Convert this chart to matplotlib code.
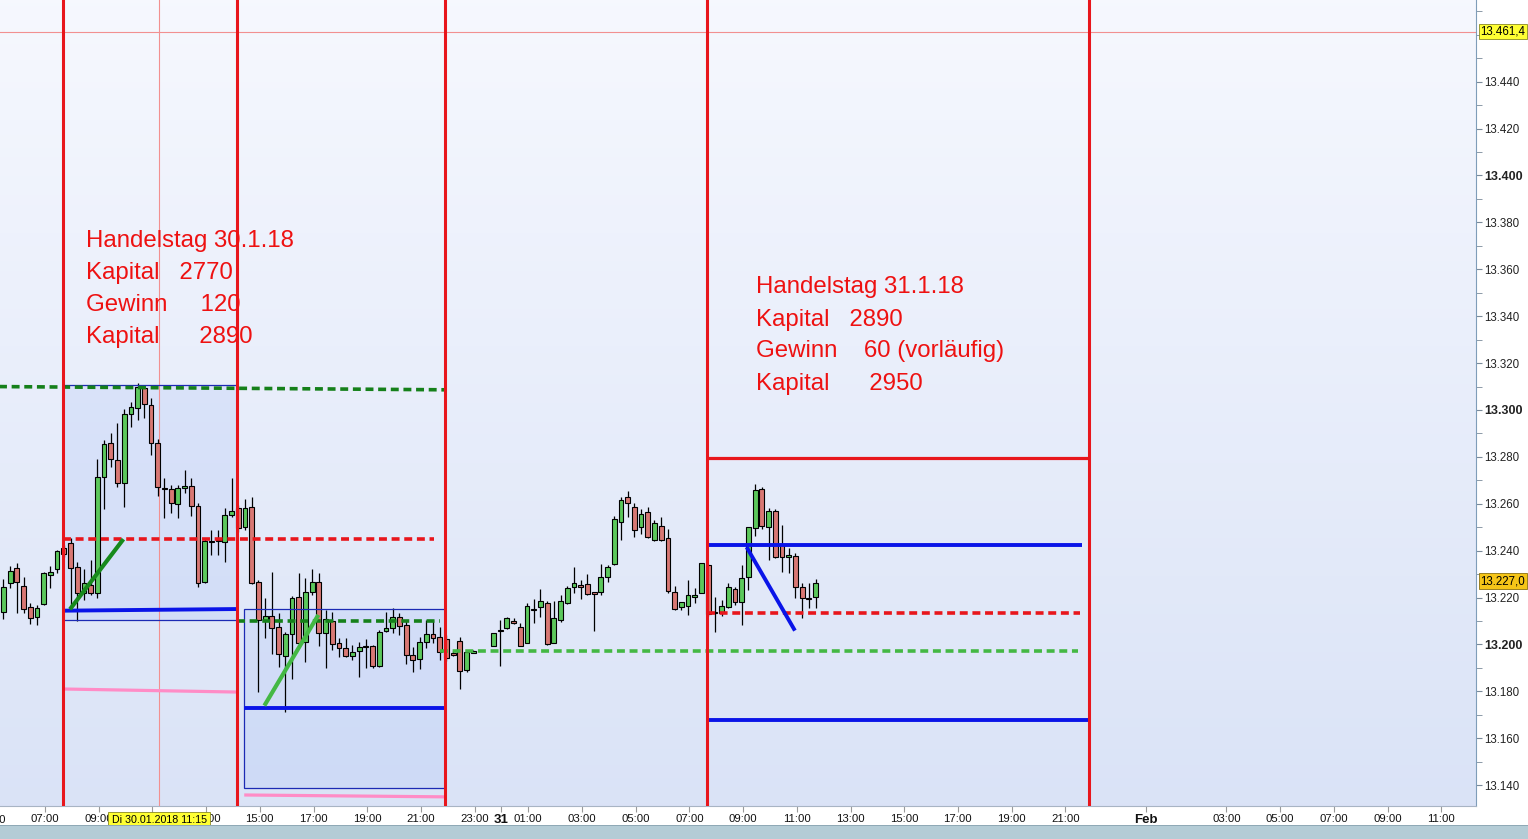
import numpy as np
import pandas as pd
import matplotlib
matplotlib.use("Agg")
import matplotlib.pyplot as plt
from matplotlib.patches import Rectangle
import matplotlib.transforms as mtransforms

plt.rcParams['font.family'] = ['Liberation Sans', 'DejaVu Sans']

# 15 min bars 30.01.2018 05:15 .. 31.01.2018 11:30, no bars at 23:00 and 23:15
bars = pd.date_range('2018-01-30 05:15', '2018-01-31 11:30', freq='15min')
bars = bars[~bars.strftime('%H:%M').isin(['23:00', '23:15'])]

opens = [13213.7, 13226.1, 13232.5, 13224.9, 13216.1, 13211.6, 13217.1, 13229.5, 13232.1, 13241.3,
         13243.1, 13232.9, 13222.1, 13225.4, 13221.8, 13271.6, 13285.8, 13278.7, 13269.0, 13298.2,
         13300.7, 13309.2, 13302.1, 13285.8, 13266.6, 13266.2, 13259.8, 13266.6, 13267.5, 13259.1,
         13226.5, 13244.1, 13244.0, 13243.9, 13255.0, 13258.1, 13250.0, 13258.5, 13226.5, 13210.5,
         13212.3, 13207.5, 13195.2, 13204.3, 13220.1, 13201.2, 13222.5, 13226.5, 13204.8, 13210.0,
         13200.5, 13198.4, 13195.2, 13197.2, 13199.4, 13199.4, 13190.6, 13205.9, 13206.9, 13211.9,
         13208.3, 13195.5, 13193.7, 13201.2, 13204.5, 13203.1, 13202.2, 13196.5, 13201.6, 13189.1,
         13196.5, 13199.5, 13206.0, 13206.9, 13209.9, 13207.4, 13200.8, 13215.1, 13216.1, 13217.6,
         13200.8, 13210.4, 13217.6, 13224.6, 13225.2, 13225.6, 13222.2, 13222.2, 13228.9, 13234.2,
         13252.1, 13262.8, 13258.5, 13250.0, 13256.4, 13244.6, 13250.7, 13245.3, 13222.2, 13215.9,
         13216.4, 13220.1, 13222.1, 13233.9, 13213.6, 13213.6, 13215.8, 13223.7, 13218.3, 13228.6,
         13249.5, 13266.3, 13250.2, 13256.9, 13242.8, 13237.2, 13237.7, 13224.7, 13219.8, 13220.4]
highs = [13227.8, 13233.5, 13234.9, 13228.9, 13217.6, 13216.8, 13231.1, 13233.5, 13240.3, 13242.5,
         13245.3, 13235.1, 13232.1, 13235.8, 13279.0, 13287.2, 13290.1, 13294.6, 13300.3, 13303.6,
         13311.7, 13310.2, 13305.0, 13287.5, 13270.9, 13268.0, 13268.0, 13274.4, 13270.9, 13260.2,
         13245.3, 13248.8, 13248.8, 13258.1, 13271.1, 13259.5, 13261.9, 13263.0, 13227.5, 13219.7,
         13230.8, 13213.3, 13205.5, 13220.8, 13230.3, 13228.2, 13232.1, 13230.3, 13214.7, 13214.0,
         13202.6, 13202.6, 13199.8, 13201.2, 13202.3, 13199.8, 13206.2, 13214.0, 13215.4, 13213.3,
         13210.4, 13199.1, 13203.3, 13210.4, 13210.4, 13207.6, 13204.0, 13197.0, 13203.1, 13196.9,
         13197.5, 13205.0, 13210.4, 13211.6, 13211.1, 13209.3, 13217.5, 13219.4, 13223.6, 13218.5,
         13218.5, 13221.1, 13224.9, 13232.9, 13227.5, 13229.9, 13222.5, 13234.2, 13233.9, 13254.8,
         13262.8, 13265.6, 13260.2, 13257.6, 13258.5, 13253.1, 13254.2, 13249.1, 13224.9, 13218.3,
         13227.5, 13223.9, 13234.8, 13234.5, 13220.4, 13219.0, 13226.4, 13224.7, 13233.9, 13250.2,
         13268.4, 13267.0, 13258.1, 13257.6, 13250.9, 13241.0, 13239.1, 13226.1, 13226.4, 13227.8]
lows = [13210.7, 13224.0, 13213.3, 13213.6, 13208.7, 13208.3, 13216.8, 13224.0, 13230.6, 13237.5,
        13215.4, 13210.2, 13219.0, 13221.1, 13219.6, 13257.6, 13275.8, 13267.3, 13258.8, 13292.6,
        13295.7, 13296.4, 13280.8, 13263.1, 13254.1, 13255.9, 13254.1, 13264.7, 13254.8, 13224.4,
        13226.1, 13238.0, 13238.2, 13235.3, 13254.5, 13248.0, 13248.8, 13225.8, 13179.6, 13202.6,
        13196.0, 13190.3, 13171.1, 13185.1, 13200.2, 13192.7, 13221.1, 13199.5, 13189.8, 13197.6,
        13194.8, 13194.5, 13193.4, 13186.0, 13189.8, 13190.1, 13190.3, 13205.5, 13205.0, 13204.1,
        13191.5, 13188.4, 13189.4, 13198.4, 13200.5, 13193.4, 13193.0, 13195.0, 13180.9, 13188.4,
        13196.2, 13199.3, 13191.0, 13206.6, 13208.6, 13199.3, 13200.5, 13209.3, 13211.9, 13199.8,
        13200.5, 13209.7, 13217.3, 13221.8, 13219.2, 13221.1, 13205.9, 13221.1, 13226.8, 13233.9,
        13244.6, 13254.2, 13245.7, 13247.1, 13245.3, 13244.3, 13244.3, 13221.8, 13214.7, 13214.7,
        13212.6, 13217.8, 13221.8, 13212.0, 13205.5, 13212.2, 13215.4, 13216.8, 13208.3, 13223.2,
        13246.3, 13249.1, 13236.0, 13237.0, 13231.1, 13230.3, 13219.7, 13211.2, 13215.4, 13215.4]
closes = [13224.7, 13231.2, 13226.5, 13215.0, 13211.2, 13215.4, 13230.3, 13230.9, 13239.7, 13238.5,
          13232.5, 13221.8, 13226.1, 13222.1, 13271.6, 13285.4, 13279.0, 13269.0, 13298.2, 13301.1,
          13310.0, 13302.4, 13285.8, 13267.0, 13266.2, 13260.2, 13266.6, 13267.5, 13259.1, 13226.1,
          13244.3, 13243.9, 13244.3, 13255.2, 13256.8, 13249.5, 13258.1, 13226.4, 13210.5, 13212.0,
          13206.9, 13196.0, 13204.5, 13220.0, 13200.5, 13222.2, 13226.5, 13204.8, 13210.7, 13200.1,
          13198.4, 13195.1, 13196.9, 13199.1, 13198.9, 13190.6, 13205.5, 13206.9, 13211.9, 13208.0,
          13195.5, 13193.4, 13200.9, 13204.5, 13202.9, 13196.9, 13194.1, 13195.6, 13188.7, 13196.7,
          13197.2, 13204.8, 13205.8, 13211.1, 13209.0, 13199.5, 13216.4, 13214.9, 13218.5, 13200.1,
          13211.1, 13218.5, 13223.9, 13226.1, 13224.4, 13221.4, 13221.4, 13228.6, 13232.9, 13253.4,
          13261.6, 13260.2, 13248.8, 13255.5, 13245.7, 13251.7, 13244.6, 13223.0, 13215.0, 13218.0,
          13221.1, 13221.1, 13234.6, 13213.0, 13213.3, 13216.4, 13224.7, 13218.3, 13228.2, 13249.9,
          13265.9, 13250.7, 13256.9, 13237.4, 13237.4, 13238.0, 13224.7, 13219.7, 13219.3, 13226.4]

# drawn objects: (start hour, end hour, start price, end price), hours counted from 30.01. 00:00
session_lines = [7.67, 14.15, 21.9, 31.65, 45.88]
box1 = (7.67, 14.15, 13210.4, 13310.7)
box2 = (14.42, 21.9, 13138.8, 13215.1)
dark_green_dash = [(5.0, 21.9, 13310.0, 13308.6), (14.14, 21.71, 13210.2, 13210.2)]
light_green_dash = [(21.71, 45.47, 13197.2, 13197.2)]
red_dash = [(7.67, 21.5, 13245.0, 13245.0), (31.65, 45.55, 13213.4, 13213.4)]
blue_lines = [(7.67, 14.15, 13214.4, 13215.1), (14.42, 21.9, 13173.1, 13173.1),
              (31.65, 45.62, 13242.4, 13242.4), (31.65, 45.88, 13167.8, 13167.8),
              (33.13, 34.93, 13241.5, 13205.9)]
pink_lines = [(7.67, 14.15, 13181.0, 13179.7), (14.42, 21.9, 13135.8, 13135.0)]
dark_green_trend = (7.93, 9.92, 13215.0, 13244.9)
light_green_trend = (15.17, 17.18, 13173.9, 13212.6)
red_top = (31.65, 45.88, 13279.5, 13279.5)

text1 = ['Handelstag 30.1.18', 'Kapital   2770', 'Gewinn     120', 'Kapital      2890']
text1_pos = (8.53, [13369.3, 13355.7, 13342.0, 13328.4])
text2 = ['Handelstag 31.1.18', 'Kapital   2890', 'Gewinn    60 (vorläufig)', 'Kapital      2950']
text2_pos = (33.48, [13349.7, 13336.0, 13322.4, 13308.7])

xtick_pos = [7, 9, 11, 13, 15, 17, 19, 21, 23, 24, 25, 27, 29, 31, 33, 35, 37, 39, 41, 43, 45,
             48, 51, 53, 55, 57, 59]
xtick_lab = ['07:00', '09:00', '11:00', '13:00', '15:00', '17:00', '19:00', '21:00', '23:00',
             '31', '01:00', '03:00', '05:00', '07:00', '09:00', '11:00', '13:00', '15:00', '17:00',
             '19:00', '21:00', 'Feb', '03:00', '05:00', '07:00', '09:00', '11:00']
cut_tick = (5, '05:00')   # label just outside the left edge

cross_time, cross_label = 11.25, 'Di 30.01.2018 11:15'
cross_price, cross_price_label = 13461.4, '13.461,4'
last_price, last_label = 13227.0, '13.227,0'

W, H = 1528, 839
fig = plt.figure(figsize=(W / 100, H / 100), dpi=100)
ax = fig.add_axes([0, 33 / H, 1476 / W, 806 / H])
xlim = (5.324, 60.296)
ylim = (13131.1, 13474.84)

# background gradient
grad = np.linspace(0, 1, 256)[:, None, None]
top = np.array([0.965, 0.973, 0.997])
bot = np.array([0.855, 0.89, 0.968])
img = top * (1 - grad) + bot * grad
ax.imshow(np.repeat(img, 2, axis=1), extent=[xlim[0], xlim[1], ylim[0], ylim[1]],
          aspect='auto', zorder=0, origin='upper')

for b in (box1, box2):
    ax.add_patch(Rectangle((b[0], b[2]), b[1] - b[0], b[3] - b[2], facecolor=(0.62, 0.72, 0.96),
                           alpha=0.2, edgecolor='none', zorder=1))
    ax.add_patch(Rectangle((b[0], b[2]), b[1] - b[0], b[3] - b[2], facecolor='none',
                           edgecolor='#1c2ab4', lw=0.9, zorder=5))

# candles
t = ((bars - pd.Timestamp('2018-01-30')) / pd.Timedelta(hours=1)).values + 0.2
o = np.array(opens)
hi = np.array(highs)
lo = np.array(lows)
c = np.array(closes)
up = c >= o
cols = np.where(up, '#5cc85c', '#d87874')
ax.vlines(t, lo, hi, color='black', lw=0.9, zorder=3)
ax.bar(t, np.maximum(np.abs(c - o), 0.35), bottom=np.minimum(o, c), width=0.18,
       color=cols, edgecolor='black', linewidth=0.8, zorder=4)

def seg(s, **kw):
    ax.plot([s[0], s[1]], [s[2], s[3]], solid_capstyle='butt', dash_capstyle='butt', **kw)

for s in dark_green_dash:
    seg(s, color='#15801a', lw=2.6, dashes=(2.2, 1.3), zorder=6)
for s in light_green_dash:
    seg(s, color='#44b844', lw=2.6, dashes=(2.2, 1.3), zorder=6)
for s in red_dash:
    seg(s, color='#e8161c', lw=2.6, dashes=(2.2, 1.3), zorder=6)
for s in blue_lines:
    seg(s, color='#0a14e8', lw=2.8, zorder=6)
for s in pink_lines:
    seg(s, color='#ff8cc6', lw=2.3, zorder=6)
seg(dark_green_trend, color='#178a1c', lw=3.0, zorder=6)
seg(light_green_trend, color='#44b844', lw=3.0, zorder=6)
seg(red_top, color='#e8161c', lw=2.3, zorder=6)

for x in session_lines:
    ax.axvline(x, color='#e8161c', lw=2.2, zorder=7)

# crosshair
ax.axhline(cross_price, color='#f29090', lw=0.8, zorder=2)
ax.axvline(cross_time, color='#f29090', lw=0.8, zorder=2)

for txt, (x0, ys) in ((text1, text1_pos), (text2, text2_pos)):
    for line, y in zip(txt, ys):
        ax.text(x0, y, line, color='#ee1111', fontsize=17.3, va='baseline', ha='left', zorder=8)

ax.set_xticks(xtick_pos)
ax.set_xticklabels(xtick_lab, fontsize=8.2, color='#111111')
for lab in ax.get_xticklabels():
    if lab.get_text() in ('31', 'Feb'):
        lab.set_fontweight('bold')
        lab.set_fontsize(9.5)
ax.tick_params(axis='x', length=4, color='#9a9a9a', pad=2)

yt = np.arange(13140, 13441, 20)
ax.yaxis.tick_right()
ax.set_yticks(yt)
ax.set_yticks(np.arange(13140, 13471, 10), minor=True)
ax.set_yticklabels(['{:.3f}'.format(v / 1000) for v in yt], fontsize=8.3, color='#222222')
for v, lab in zip(yt, ax.get_yticklabels()):
    if v % 100 == 0:
        lab.set_fontweight('bold')
        lab.set_fontsize(9)
ax.tick_params(axis='y', which='both', length=4, color='#7a8a9a', pad=2)

ax.set_xlim(*xlim)
ax.set_ylim(*ylim)

trans_b = mtransforms.blended_transform_factory(ax.transData, ax.transAxes)
ax.text(cut_tick[0], -0.0175, cut_tick[1], transform=trans_b, fontsize=8.2, color='#111111',
        va='center', ha='center', clip_on=False)

for sp in ('top', 'left'):
    ax.spines[sp].set_visible(False)
ax.spines['right'].set_color('#7f9db9')
ax.spines['bottom'].set_color('#a8b4c4')

# price tags on the right axis
trans_r = mtransforms.blended_transform_factory(ax.transAxes, ax.transData)
ax.text(1.003, cross_price, cross_price_label, transform=trans_r, fontsize=8.3, va='center',
        ha='left', clip_on=False, zorder=10,
        bbox=dict(boxstyle='square,pad=0.15', facecolor='#ffff33', edgecolor='#8a8a20', lw=0.6))
ax.text(1.003, last_price, last_label, transform=trans_r, fontsize=8.3, va='center',
        ha='left', clip_on=False, zorder=10,
        bbox=dict(boxstyle='square,pad=0.15', facecolor='#f5c518', edgecolor='#8a7010', lw=0.6))

ax.text(cross_time, -0.0175, cross_label, transform=trans_b, fontsize=7.7, va='center', ha='center',
        clip_on=False, zorder=10,
        bbox=dict(boxstyle='square,pad=0.3', facecolor='#ffff33', edgecolor='#8a8a20', lw=0.6))

# scrollbar strip at the bottom
fig.patches.append(Rectangle((0, 0), 1, 13 / H, transform=fig.transFigure,
                             facecolor='#b4ccd6', edgecolor='none'))
fig.patches.append(Rectangle((0, 13 / H), 1, 1 / H, transform=fig.transFigure,
                             facecolor='#8fa9b6', edgecolor='none'))

fig.savefig('out.png', dpi=100)
